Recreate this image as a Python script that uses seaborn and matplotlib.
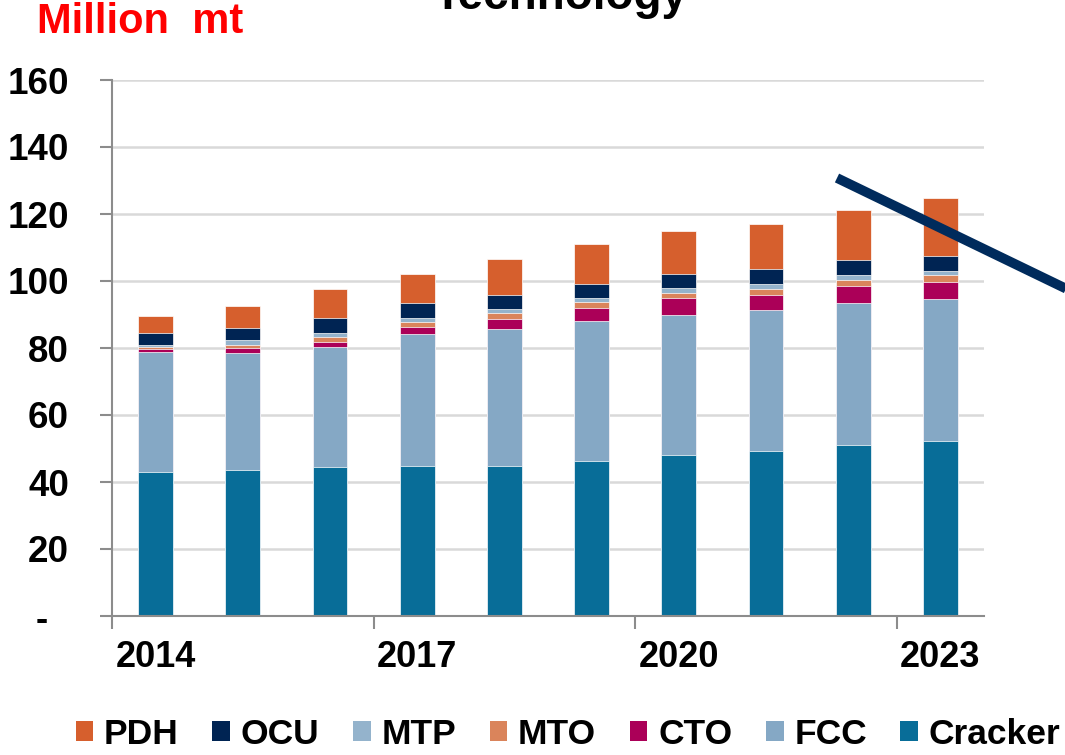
import matplotlib
matplotlib.use('Agg')
import matplotlib.pyplot as plt
import seaborn as sns
import pandas as pd
from matplotlib.patches import Patch
from matplotlib.lines import Line2D

# Values (million mt), bottom layer first
years = ['2014', '2015', '2016', '2017', '2018', '2019', '2020', '2021', '2022', '2023']
cracker = [42.9, 43.6, 44.4, 44.7, 44.7, 46.2, 48.0, 49.2, 51.0, 52.2]
fcc = [36.0, 35.0, 35.9, 39.4, 41.0, 41.8, 41.9, 42.1, 42.5, 42.4]
cto = [0.8, 1.5, 1.6, 2.2, 3.0, 4.0, 5.0, 4.5, 5.0, 5.1]
mto = [0.5, 0.9, 1.4, 1.5, 1.6, 1.6, 1.6, 1.9, 1.9, 2.0]
mtp = [0.6, 1.4, 1.2, 1.2, 1.2, 1.2, 1.3, 1.4, 1.4, 1.4]
ocu = [3.6, 3.7, 4.4, 4.3, 4.4, 4.4, 4.4, 4.4, 4.5, 4.4]
pdh = [5.2, 6.3, 8.7, 8.8, 10.6, 11.8, 12.7, 13.4, 14.9, 17.2]

year_labels = ['2014', '2017', '2020', '2023']
y_ticks = [0, 20, 40, 60, 80, 100, 120, 140, 160]
y_tick_labels = ['-  ', '20', '40', '60', '80', '100', '120', '140', '160']

colors = {
    'Cracker': '#086D98',
    'FCC': '#85A8C5',
    'CTO': '#AB0058',
    'MTO': '#DA845B',
    'MTP': '#94B3CC',
    'OCU': '#002453',
    'PDH': '#D65F2D',
}

df = pd.DataFrame({'Cracker': cracker, 'FCC': fcc, 'CTO': cto, 'MTO': mto,
                   'MTP': mtp, 'OCU': ocu, 'PDH': pdh})
stack = df.cumsum(axis=1)
stack['year'] = years

sns.set_theme(style='white')
plt.rcParams['font.family'] = ['Liberation Sans', 'DejaVu Sans']
plt.rcParams['font.weight'] = 'bold'
plt.rcParams['text.color'] = 'black'
plt.rcParams['xtick.labelcolor'] = 'black'
plt.rcParams['ytick.labelcolor'] = 'black'

fig = plt.figure(figsize=(10.65, 7.55), dpi=100)
ax = fig.add_axes([112 / 1065, 1 - 616 / 755, 872 / 1065, 536 / 755])

# draw cumulative totals from the top layer down so each layer covers the one above's base
for name in reversed(list(colors.keys())):
    sns.barplot(data=stack, x='year', y=name, color=colors[name], width=0.4,
                saturation=1, edgecolor='white', linewidth=0.5, ax=ax)

ax.set_xlabel('')
ax.set_ylabel('')
ax.set_xlim(-0.5, 9.5)
ax.set_ylim(0, 160)

gray = '#8C8C8C'
ax.set_xticks([-0.5, 2.5, 5.5, 8.5])
ax.set_xticklabels([])
ax.set_xticks([0, 3, 6, 9], minor=True)
ax.set_xticklabels(year_labels, minor=True)
ax.tick_params(axis='x', which='major', length=9, width=1.5, color=gray, bottom=True)
ax.tick_params(axis='x', which='minor', length=0, pad=17, labelsize=26, bottom=True,
               labelcolor='black')

ax.set_yticks(y_ticks)
ax.set_yticklabels(y_tick_labels)
ax.tick_params(axis='y', length=9, width=1.5, color=gray, pad=22, labelsize=26.5, left=True,
               labelcolor='black')

for lab in ax.get_xticklabels(minor=True) + ax.get_yticklabels():
    lab.set_fontweight('bold')

ax.yaxis.grid(True, color='#D9D9D9', linewidth=1.8)
ax.set_axisbelow(True)
for side in ['top', 'right']:
    ax.spines[side].set_visible(False)
for side in ['left', 'bottom']:
    ax.spines[side].set_color(gray)
    ax.spines[side].set_linewidth(1.5)

fig.text(37 / 1065, 1 - 33 / 755, 'Million  mt', color='red', fontsize=30,
         fontweight='bold', va='baseline', ha='left')
fig.text(560 / 1065, 1 - 9 / 755, 'Technology', color='black', fontsize=33,
         fontweight='bold', va='baseline', ha='center')

# decorative slash across the last bars
fig.add_artist(Line2D([837 / 1065, 1075 / 1065], [1 - 178 / 755, 1 - 293 / 755],
                      transform=fig.transFigure, color='#002B5C', linewidth=7,
                      solid_capstyle='butt'))

legend_order = ['PDH', 'OCU', 'MTP', 'MTO', 'CTO', 'FCC', 'Cracker']
handles = [Patch(facecolor=colors[n], edgecolor='none', label=n) for n in legend_order]
fig.legend(handles=handles, loc='center', bbox_to_anchor=(568 / 1065, 1 - 734 / 755),
           ncol=7, frameon=False, handlelength=0.5, handleheight=0.5,
           handletextpad=0.3, columnspacing=0.95, borderpad=0,
           labelcolor='black', prop={'weight': 'bold', 'size': 25.5})

plt.savefig('out.png', dpi=100)
